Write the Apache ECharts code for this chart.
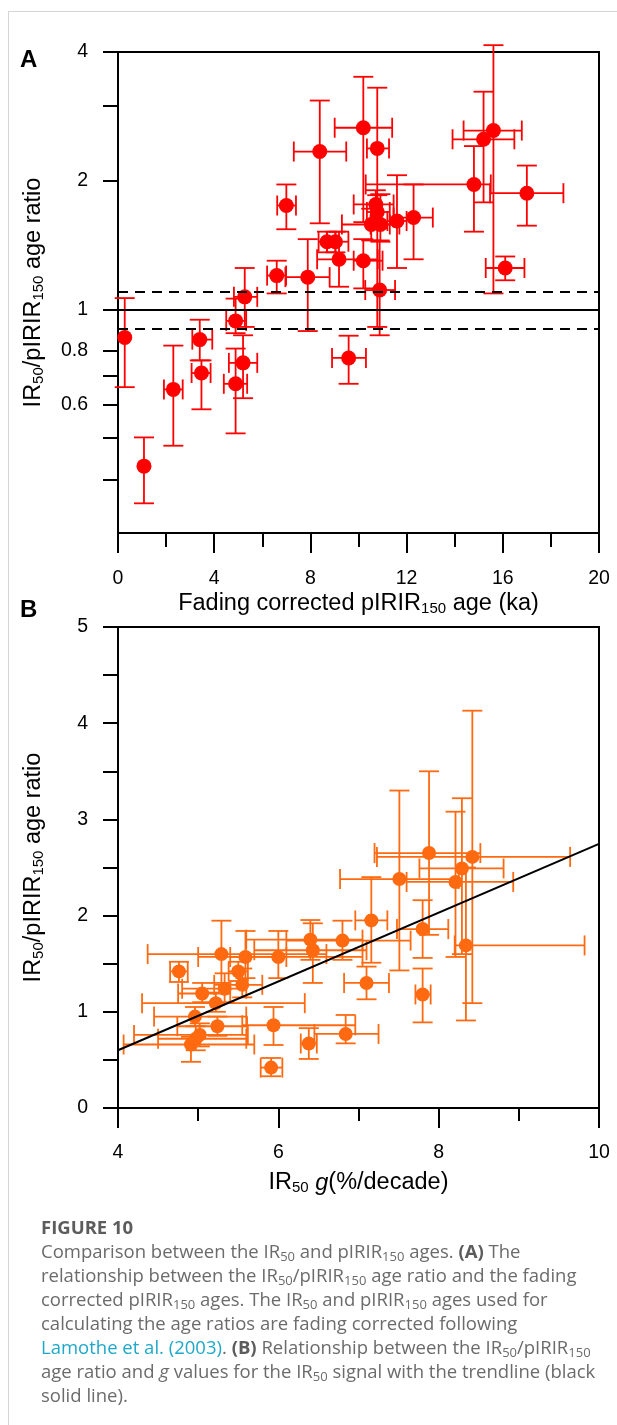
<!DOCTYPE html>
<html><head><meta charset="utf-8">
<script src="https://cdn.jsdelivr.net/npm/echarts@6/dist/echarts.min.js"></script>
<style>
html,body{margin:0;padding:0;background:#fff;}
#wrap{position:relative;width:617px;height:1425px;overflow:hidden;background:#fff;}
#card{position:absolute;left:8px;top:11px;right:-2px;bottom:-2px;border-left:1px solid #d4d4d4;border-top:1px solid #d4d4d4;}
#chart{position:absolute;left:0;top:0;width:617px;height:1425px;}
#cap{position:absolute;left:41px;top:1215px;font-family:'Open Sans',sans-serif;font-size:18.5px;line-height:24px;color:#6b6b6b;white-space:nowrap;}
#cap .fig{font-weight:bold;color:#5c5c5c;}
#cap b{color:#5c5c5c;}
#cap sub{font-size:13px;vertical-align:-3px;line-height:0;}
#cap a{color:#1fa8c9;text-decoration:none;}
</style></head>
<body>
<div id="wrap">
<div id="card"></div>
<div id="chart"></div>
<div id="cap">
<div class="fig">FIGURE 10</div>
<div>Comparison between the IR<sub>50</sub> and pIRIR<sub>150</sub> ages. <b>(A)</b> The</div>
<div>relationship between the IR<sub>50</sub>/pIRIR<sub>150</sub> age ratio and the fading</div>
<div>corrected pIRIR<sub>150</sub> ages. The IR<sub>50</sub> and pIRIR<sub>150</sub> ages used for</div>
<div>calculating the age ratios are fading corrected following</div>
<div><a>Lamothe et al. (2003)</a>. <b>(B)</b> Relationship between the IR<sub>50</sub>/pIRIR<sub>150</sub></div>
<div>age ratio and <i>g</i> values for the IR<sub>50</sub> signal with the trendline (black</div>
<div>solid line).</div>
</div>
</div>
<script>
// ---------- Panel A data: fading corrected pIRIR150 age (ka) vs IR50/pIRIR150 age ratio ----------
const aAge    = [8.39,10.20,10.78,15.61,15.20,14.80,17.00,12.29,11.60,10.53,10.91,10.72,10.78,7.00,8.69,9.04,9.19,10.20,16.10,7.89,6.60,10.88,5.27,4.89,0.28,1.08,2.30,3.40,3.47,5.20,4.89,9.59];
const aRatio  = [2.34,2.66,2.38,2.62,2.50,1.96,1.87,1.64,1.61,1.58,1.58,1.76,1.69,1.75,1.44,1.44,1.31,1.30,1.25,1.19,1.20,1.11,1.07,0.94,0.86,0.43,0.65,0.85,0.71,0.75,0.67,0.77];
const aAgeLo  = [7.31,9.01,10.35,14.37,13.91,10.30,15.47,11.46,11.20,9.31,10.50,9.80,10.35,6.62,8.34,8.69,8.28,9.80,15.29,6.96,6.20,10.28,4.82,4.50,0.28,1.08,1.91,3.09,3.06,4.61,4.40,8.90];
const aAgeHi  = [9.49,11.40,11.27,16.79,16.48,15.50,18.52,13.09,12.00,11.70,11.30,11.46,11.30,7.40,9.04,9.58,10.80,11.00,16.90,8.80,6.99,11.52,5.79,5.33,0.28,1.08,2.69,3.92,3.85,5.79,5.37,10.31];
const aRatioLo= [1.59,1.60,0.91,1.09,1.78,1.52,1.57,1.31,1.25,1.45,1.44,1.62,1.55,1.54,1.36,1.36,1.13,1.12,1.17,0.89,1.09,0.87,0.91,0.88,0.658,0.352,0.48,0.76,0.584,0.62,0.513,0.67];
const aRatioHi= [3.08,3.50,3.30,4.15,3.23,2.41,2.17,1.96,2.06,1.72,1.86,1.90,1.85,1.96,1.52,1.52,1.52,1.46,1.33,1.46,1.30,1.45,1.25,1.06,1.063,0.502,0.823,0.946,0.76,0.87,0.81,0.868];
const aRefLines = [1, 0.9, 1.1];
const aYTicks  = [0.4,0.5,0.6,0.7,0.8,1,2,3,4];
const aYLabels = [0.6,0.8,1,2,4];

// ---------- Panel B data: IR50 g (%/decade) vs IR50/pIRIR150 age ratio ----------
const bG      = [7.88,8.42,8.29,8.21,7.51,8.34,7.80,7.16,6.80,6.40,6.43,6.00,5.59,5.29,4.76,5.50,5.55,5.33,5.05,5.22,4.96,5.24,5.94,6.84,6.38,5.91,7.80,7.10,5.02,4.91,4.97];
const bRatio  = [2.65,2.61,2.49,2.35,2.38,1.69,1.86,1.95,1.74,1.75,1.64,1.57,1.57,1.60,1.42,1.42,1.28,1.24,1.19,1.09,0.95,0.85,0.86,0.77,0.67,0.42,1.18,1.30,0.76,0.66,0.72];
const bGLo    = [7.20,7.23,7.76,7.60,6.77,8.20,7.48,6.96,6.10,5.60,5.70,5.40,5.00,4.37,4.65,5.38,5.20,4.80,4.75,4.30,4.45,4.74,5.55,6.45,6.28,5.78,7.71,6.82,4.20,4.07,4.50];
const bGHi    = [8.52,9.64,8.81,8.93,8.25,9.82,8.12,7.36,7.65,7.05,7.10,7.05,6.10,6.60,4.87,5.62,5.80,5.60,5.40,6.33,5.60,5.61,6.96,7.25,6.48,6.05,7.90,7.38,5.62,5.70,5.60];
const bRatioLo= [1.80,1.09,1.60,1.57,1.43,0.91,1.56,1.51,1.54,1.54,1.30,1.35,1.35,1.30,1.31,1.32,1.15,1.10,1.10,1.00,0.85,0.75,0.655,0.672,0.51,0.33,0.89,1.13,0.64,0.48,0.60];
const bRatioHi= [3.50,4.13,3.22,3.08,3.30,2.50,2.16,2.40,1.947,1.954,1.92,1.84,1.84,1.947,1.52,1.52,1.45,1.40,1.30,1.20,1.05,0.95,1.05,0.967,0.83,0.52,1.45,1.47,0.88,0.74,0.85];
const bTrendX = [4, 10];
const bTrendY = [0.60, 2.745];

// ---------- helpers ----------
const L = v => Math.log2(v);
const fmtLog = v => String(parseFloat(Math.pow(2, v).toFixed(2)));
const FONT = 'Liberation Sans';
const RED = '#ff0000';
const ORANGE = '#ff6a10';

const aErr = aAge.map((x, i) => [x, L(aRatio[i]), aAgeLo[i], aAgeHi[i], L(aRatioLo[i]), L(aRatioHi[i])]);
const aPts = aAge.map((x, i) => [x, L(aRatio[i])]);
const bErr = bG.map((x, i) => [x, bRatio[i], bGLo[i], bGHi[i], bRatioLo[i], bRatioHi[i]]);
const bPts = bG.map((x, i) => [x, bRatio[i]]);
const bTrend = bTrendX.map((x, i) => [x, bTrendY[i]]);

function errRenderer(color) {
  return function (params, api) {
    const x = api.value(0), y = api.value(1);
    const xl = api.value(2), xh = api.value(3), yl = api.value(4), yh = api.value(5);
    const cap = 10;
    const st = { stroke: color, lineWidth: 1.8, fill: null };
    const ch = [];
    const p1 = api.coord([x, yl]), p2 = api.coord([x, yh]);
    ch.push({ type: 'line', shape: { x1: p1[0], y1: p1[1], x2: p2[0], y2: p2[1] }, style: st });
    ch.push({ type: 'line', shape: { x1: p1[0] - cap, y1: p1[1], x2: p1[0] + cap, y2: p1[1] }, style: st });
    ch.push({ type: 'line', shape: { x1: p2[0] - cap, y1: p2[1], x2: p2[0] + cap, y2: p2[1] }, style: st });
    if (xh > xl) {
      const q1 = api.coord([xl, y]), q2 = api.coord([xh, y]);
      ch.push({ type: 'line', shape: { x1: q1[0], y1: q1[1], x2: q2[0], y2: q2[1] }, style: st });
      ch.push({ type: 'line', shape: { x1: q1[0], y1: q1[1] - cap, x2: q1[0], y2: q1[1] + cap }, style: st });
      ch.push({ type: 'line', shape: { x1: q2[0], y1: q2[1] - cap, x2: q2[0], y2: q2[1] + cap }, style: st });
    }
    return { type: 'group', children: ch };
  };
}

const richName = {
  n: { fontSize: 23.5, fontFamily: FONT, color: '#000', lineHeight: 31, verticalAlign: 'bottom' },
  s: { fontSize: 15, fontFamily: FONT, color: '#000', lineHeight: 15, verticalAlign: 'bottom' },
  i: { fontSize: 23.5, fontFamily: FONT, color: '#000', lineHeight: 31, verticalAlign: 'bottom', fontStyle: 'italic' }
};
const axLine = { show: true, onZero: false, lineStyle: { color: '#000', width: 2 } };
const lbl = { fontSize: 19.5, fontFamily: FONT, color: '#000' };
const ratioName = '{n|IR}{s|50}{n|/pIRIR}{s|150}{n| age ratio}';

const chart = echarts.init(document.getElementById('chart'), null, { renderer: 'canvas' });
chart.setOption({
  animation: false,
  backgroundColor: 'transparent',
  graphic: [
    { type: 'text', left: 20, top: 48, style: { text: 'A', fontSize: 24, fontWeight: 'bold', fontFamily: FONT, fill: '#000' } },
    { type: 'text', left: 20, top: 598, style: { text: 'B', fontSize: 24, fontWeight: 'bold', fontFamily: FONT, fill: '#000' } }
  ],
  grid: [
    { left: 118, top: 52, width: 481, height: 481, show: true, borderColor: '#000', borderWidth: 2, backgroundColor: 'transparent' },
    { left: 118, top: 627, width: 481, height: 481, show: true, borderColor: '#000', borderWidth: 2, backgroundColor: 'transparent' }
  ],
  xAxis: [
    { gridIndex: 0, type: 'value', min: 0, max: 20, interval: 4,
      axisLine: axLine, splitLine: { show: false },
      axisTick: { show: true, length: 20, lineStyle: { color: '#000', width: 2 } },
      minorTick: { show: true, splitNumber: 2, length: 14, lineStyle: { color: '#000', width: 2 } },
      axisLabel: Object.assign({ margin: 36 }, lbl),
      name: '{n|Fading corrected pIRIR}{s|150}{n| age (ka)}', nameLocation: 'middle', nameGap: 52,
      nameTextStyle: { rich: richName } },
    { gridIndex: 1, type: 'value', min: 4, max: 10, interval: 2,
      axisLine: axLine, splitLine: { show: false },
      axisTick: { show: true, length: 20, lineStyle: { color: '#000', width: 2 } },
      minorTick: { show: true, splitNumber: 2, length: 13, lineStyle: { color: '#000', width: 2 } },
      axisLabel: Object.assign({ margin: 35 }, lbl),
      name: '{n|IR}{s|50}{n| }{i|g}{n|(%/decade)}', nameLocation: 'middle', nameGap: 56,
      nameTextStyle: { rich: richName } }
  ],
  yAxis: [
    { gridIndex: 0, type: 'value', min: L(0.3), max: L(4),
      axisLine: axLine, splitLine: { show: false },
      axisTick: { show: true, length: 15, lineStyle: { color: '#000', width: 2 }, customValues: aYTicks.map(L) },
      axisLabel: Object.assign({ margin: 30, customValues: aYLabels.map(L), formatter: fmtLog }, lbl),
      name: ratioName, nameLocation: 'middle', nameRotate: 90, nameGap: 72,
      nameTextStyle: { rich: richName } },
    { gridIndex: 1, type: 'value', min: 0, max: 5, interval: 1,
      axisLine: axLine, splitLine: { show: false },
      axisTick: { show: true, length: 15, lineStyle: { color: '#000', width: 2 } },
      minorTick: { show: true, splitNumber: 2, length: 15, lineStyle: { color: '#000', width: 2 } },
      axisLabel: Object.assign({ margin: 30 }, lbl),
      name: ratioName, nameLocation: 'middle', nameRotate: 90, nameGap: 72,
      nameTextStyle: { rich: richName } }
  ],
  series: [
    { type: 'line', xAxisIndex: 0, yAxisIndex: 0, data: [], silent: true,
      markLine: { silent: true, symbol: 'none', label: { show: false },
        data: aRefLines.map((v, i) => ({ yAxis: L(v), lineStyle: { color: '#000', width: 2, type: i === 0 ? 'solid' : [10, 7] } })) } },
    { type: 'custom', xAxisIndex: 0, yAxisIndex: 0, data: aErr, renderItem: errRenderer(RED),
      encode: { x: [0, 2, 3], y: [1, 4, 5] }, silent: true, z: 3 },
    { type: 'scatter', xAxisIndex: 0, yAxisIndex: 0, data: aPts, symbol: 'circle', symbolSize: 15,
      itemStyle: { color: RED, opacity: 1 }, z: 4 },
    { type: 'line', xAxisIndex: 1, yAxisIndex: 1, data: bTrend, showSymbol: false, symbol: 'none',
      lineStyle: { color: '#000', width: 2 }, z: 5, silent: true },
    { type: 'custom', xAxisIndex: 1, yAxisIndex: 1, data: bErr, renderItem: errRenderer(ORANGE),
      encode: { x: [0, 2, 3], y: [1, 4, 5] }, silent: true, z: 3 },
    { type: 'scatter', xAxisIndex: 1, yAxisIndex: 1, data: bPts, symbol: 'circle', symbolSize: 14,
      itemStyle: { color: ORANGE, opacity: 1 }, z: 4 }
  ]
});
</script>
</body></html>
